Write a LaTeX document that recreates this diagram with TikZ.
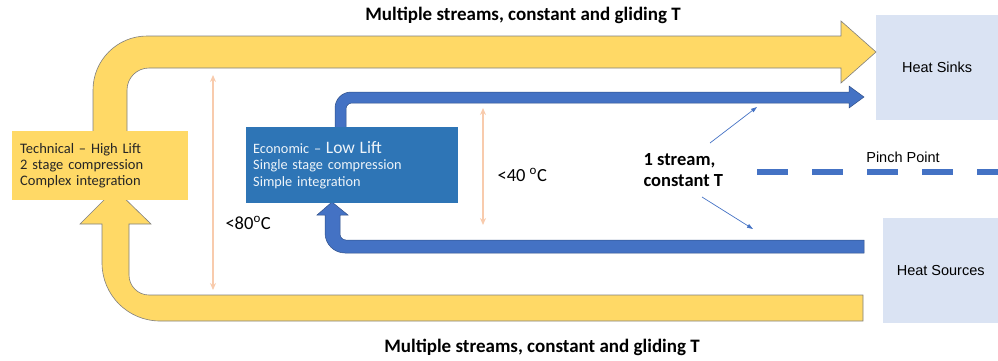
\documentclass[tikz,border=0pt]{standalone}
\usepackage{fontspec}
\setmainfont{Carlito}
\newfontfamily\arialfont{Liberation Sans}
\usetikzlibrary{arrows.meta}

\definecolor{flowyellow}{HTML}{FFD966}
\definecolor{flowblue}{HTML}{4472C4}
\definecolor{boxblue}{HTML}{2E75B6}
\definecolor{heatbox}{HTML}{DAE3F3}
\definecolor{peach}{HTML}{F8CBAD}
\definecolor{edgegray}{HTML}{7F7F7F}

\tikzset{
  yellowflow/.style={fill=flowyellow,draw=edgegray,line width=0.6pt},
  blueflow/.style={fill=flowblue,draw=flowblue!70!black,line width=0.5pt},
  heatnode/.style={fill=heatbox,draw=none,minimum width=122pt,minimum height=105pt,font=\arialfont\fontsize{14.5}{16}\selectfont},
  tempspan/.style={draw=peach,line width=2pt,{Stealth[length=7pt,width=6pt]}-{Stealth[length=7pt,width=6pt]}},
  pointer/.style={draw=flowblue,line width=0.7pt,-{Triangle[length=6pt,width=4pt]}},
  title/.style={font=\bfseries\fontsize{19}{21}\selectfont},
  templabel/.style={font=\fontsize{18.5}{20}\selectfont,anchor=west}
}

\begin{document}
\begin{tikzpicture}[x=1pt,y=-1pt]
\useasboundingbox (0,0) rectangle (998,360);

% heat sinks and sources
\node[heatnode,anchor=north west] (sinks) at (876,15) {Heat Sinks};
\node[heatnode,anchor=north west,minimum width=115pt] (sources) at (883,218) {Heat Sources};

% big yellow loop
\draw[yellowflow] (93,150) [rounded corners=54] -- (93,36) [sharp corners] -- (841,36) -- (841,21) -- (876,52)
   -- (841,83) -- (841,68) [rounded corners=22] -- (127,68) [sharp corners] -- (127,150) -- cycle;
\draw[yellowflow] (863,295) [rounded corners=20] -- (129,295) [sharp corners] -- (129,224) -- (151,224) -- (115,189)
   -- (80,224) -- (102,224) [rounded corners=58] -- (102,321) [sharp corners] -- (863,321) -- cycle;

% blue loop
\draw[blueflow] (335,150) [rounded corners=16] -- (335,92) [sharp corners] -- (849,92) -- (849,86) -- (864,97)
   -- (849,108) -- (849,103) [rounded corners=6] -- (346,103) [sharp corners] -- (346,150) -- cycle;
\draw[blueflow] (864,240) [rounded corners=6] -- (340,240) [sharp corners] -- (340,215) -- (348,215) -- (332,202)
   -- (317,215) -- (325,215) [rounded corners=20] -- (325,253) [sharp corners] -- (864,253) -- cycle;

% boxes
\node[fill=flowyellow,anchor=north west,minimum height=69pt,text width=160pt,
      align=left,text=black!85,font=\fontsize{14.5}{16.3}\selectfont,inner sep=8pt] (tech) at (12,131)
  {Technical -- High Lift\\2 stage compression\\Complex integration};
\node[fill=boxblue,anchor=north west,minimum height=76pt,text width=198pt,
      align=left,text=white!92!boxblue,font=\fontsize{14.3}{16.5}\selectfont,inner xsep=7pt,inner ysep=6pt] (econ) at (246,127)
  {Economic -- {\fontsize{17.5}{16.5}\selectfont Low Lift}\\Single stage compression\\Simple integration\\[10pt]};

% temperature spans
\coordinate (t80top) at (213,75);
\coordinate (t80bot) at (213,290);
\draw[tempspan] (t80top) -- (t80bot);
\node[templabel] (lbl80) at (222,223) {<80\textsuperscript{o}C};
\coordinate (t40top) at (483,108);
\coordinate (t40bot) at (483,225);
\draw[tempspan] (t40top) -- (t40bot);
\node[templabel] (lbl40) at (494,175) {<40 \textsuperscript{o}C};

% pinch point
\coordinate (pinchl) at (757,172);
\coordinate (pinchr) at (998,172);
\draw[flowblue,line width=6pt,dash pattern=on 31pt off 24pt] (pinchl) -- (pinchr);
\node[font=\arialfont\fontsize{14.5}{16}\selectfont] (pinch) at (903,157) {Pinch Point};

% one stream
\node[align=left,font=\bfseries\fontsize{18.5}{21}\selectfont,anchor=west] (stream) at (640,170) {1 stream,\\constant T};
\coordinate (upstart) at (710,143);
\coordinate (upend) at (757,107);
\coordinate (dnstart) at (702,197);
\coordinate (dnend) at (753,229);
\draw[pointer] (upstart) -- (upend);
\draw[pointer] (dnstart) -- (dnend);

% titles
\node[title] (toptitle) at (523,15) {Multiple streams, constant and gliding T};
\node[title] (bottitle) at (542,347) {Multiple streams, constant and gliding T};
\end{tikzpicture}
\end{document}
